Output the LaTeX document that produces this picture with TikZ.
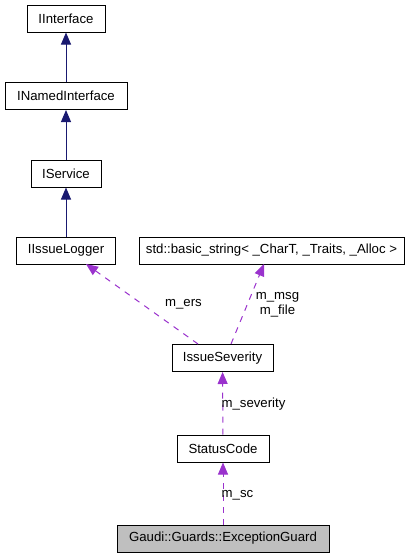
\documentclass[tikz,border=0pt]{standalone}
\usepackage{fontspec}
\setmainfont{Liberation Sans}
\usepackage{tikz}
\usetikzlibrary{arrows.meta}

\definecolor{navyedge}{RGB}{25,25,112}
\definecolor{useedge}{RGB}{154,50,205}
\definecolor{mainfill}{RGB}{191,191,191}

\tikzset{
  cls/.style={draw=black, line width=1pt, fill=white, minimum height=27pt, inner sep=0pt,
    font=\fontsize{13.2}{15}\selectfont},
  inherit/.style={draw=navyedge, line width=1pt, -{Triangle[length=12pt,width=10pt]}},
  uses/.style={draw=useedge, line width=1pt, dash pattern=on 6pt off 6pt,
    -{Triangle[length=12pt,width=10pt]}},
  lbl/.style={font=\fontsize{13.2}{15}\selectfont, inner sep=0pt, align=center}
}

\begin{document}
\begin{tikzpicture}[x=1pt,y=-1pt]
  \useasboundingbox (0,0) rectangle (418,557);

  \node[cls, minimum width=78pt] (iface) at (66,18.5) {IInterface};
  \node[cls, minimum width=122pt] (named) at (66,96) {INamedInterface};
  \node[cls, minimum width=70pt] (svc) at (66,173.5) {IService};
  \node[cls, minimum width=99pt] (logger) at (66,250.5) {IIssueLogger};
  \node[cls, minimum width=265pt] (bstr) at (271.5,250.5) {std::basic\_string< \_CharT, \_Traits, \_Alloc >};
  \node[cls, minimum width=101pt] (sev) at (222.5,358) {IssueSeverity};
  \node[cls, minimum width=92pt] (code) at (223,448.5) {StatusCode};
  \node[cls, minimum width=212pt, fill=mainfill] (guard) at (223,538.5) {Gaudi::Guards::ExceptionGuard};

  % inheritance
  \draw[inherit] (named) -- (iface);
  \draw[inherit] (svc) -- (named);
  \draw[inherit] (logger) -- (svc);

  % usage
  \coordinate (sevL) at (198,344);
  \coordinate (sevR) at (231,344);
  \coordinate (logB) at (86,264);
  \coordinate (strB) at (264,264);
  \draw[uses] (sevL) -- (logB);
  \draw[uses] (sevR) -- (strB);
  \draw[uses] (code) -- (sev);
  \draw[uses] (guard) -- (code);

  \node[lbl] (ersl) at (183.5,304.5) {m\_ers};
  \node[lbl] (msgl) at (277.5,305) {m\_msg\\m\_file};
  \node[lbl] (sevl) at (253.5,404) {m\_severity};
  \node[lbl] (scl) at (237.5,495) {m\_sc};
\end{tikzpicture}
\end{document}
